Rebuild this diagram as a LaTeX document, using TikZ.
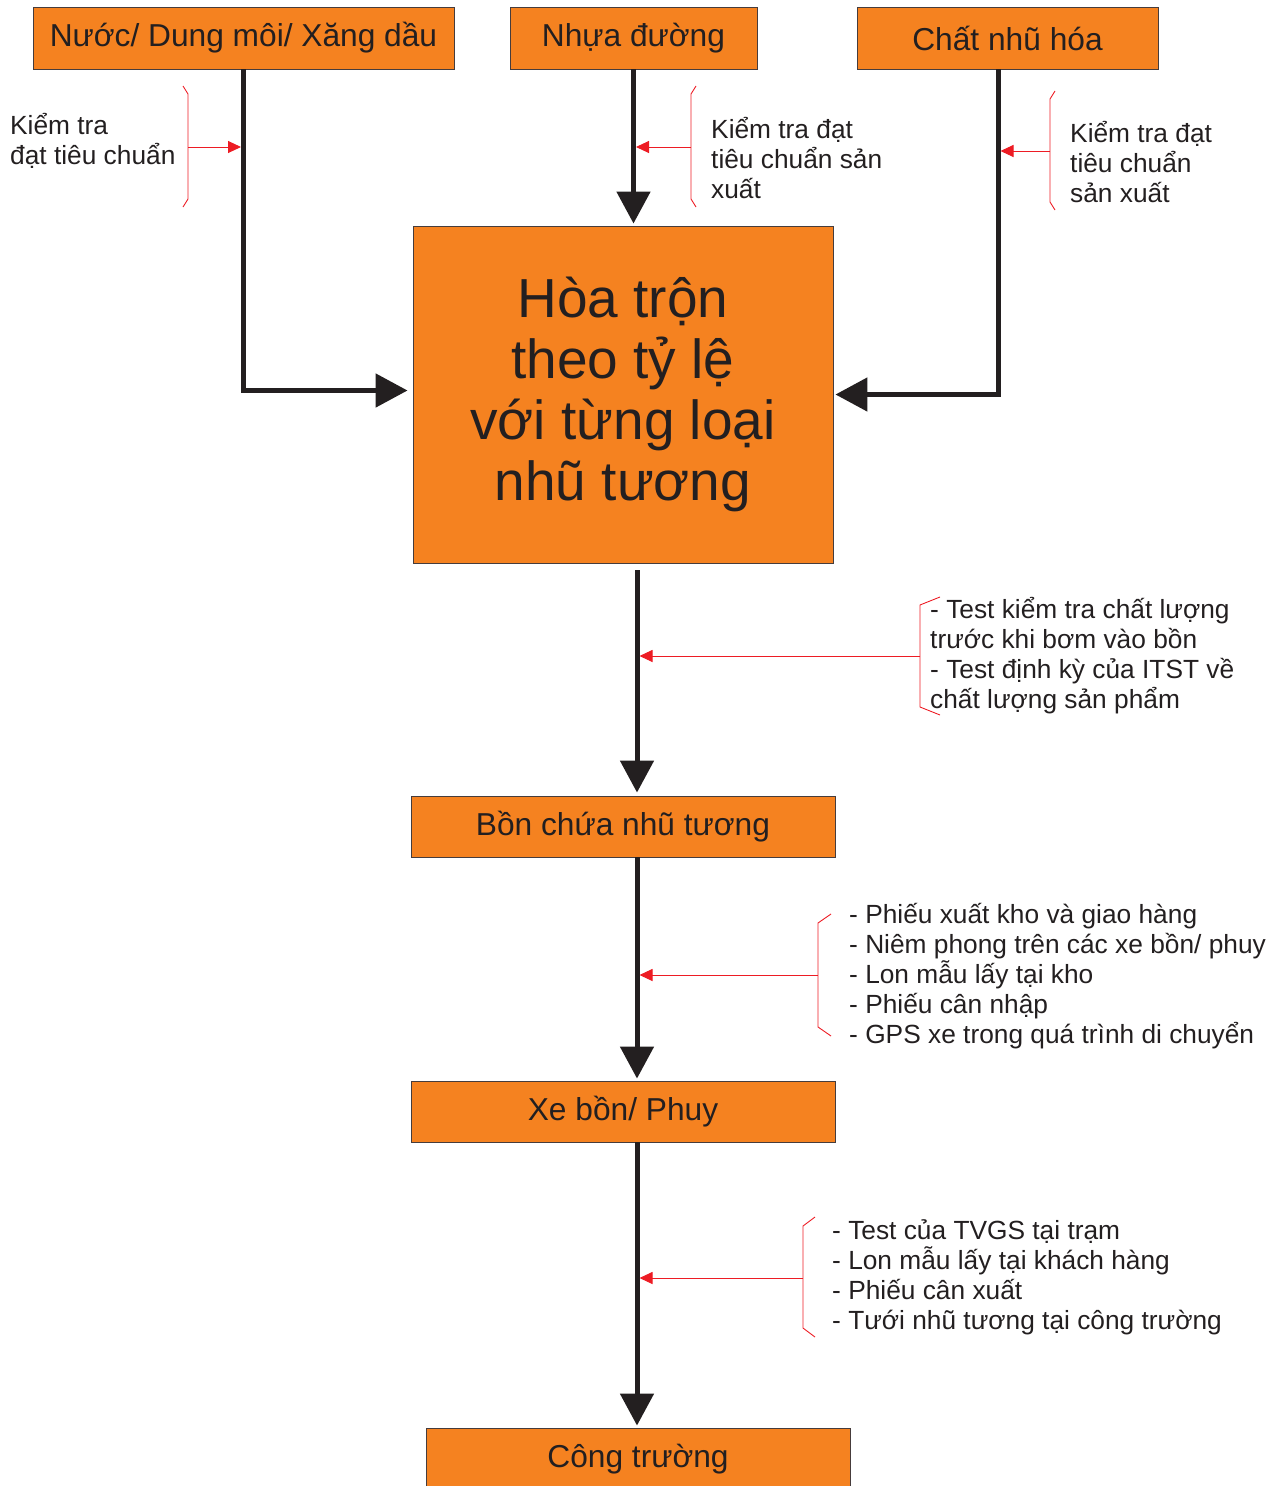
\documentclass[tikz,border=0pt]{standalone}
\usepackage{fontspec}
\setmainfont{Liberation Sans}
\usetikzlibrary{arrows.meta}

\definecolor{boxorange}{RGB}{245,130,32}
\definecolor{boxline}{RGB}{70,60,60}
\definecolor{flowblack}{RGB}{35,31,32}
\definecolor{checkred}{RGB}{237,28,36}

\tikzset{
	box/.style={draw=boxline, fill=boxorange, line width=0.9pt, inner sep=0pt, text=flowblack, font=\fontsize{31.7}{36}\selectfont},
	flow/.style={draw=flowblack, line width=5pt, -{Triangle[length=32pt,width=33pt]}},
	check/.style={draw=checkred, line width=1pt, -{Triangle[length=13pt,width=12pt]}},
	brace/.style={draw=checkred, line width=0.9pt},
	note/.style={anchor=west, align=left, inner sep=0pt, text=flowblack, font=\fontsize{26.3}{30}\selectfont}
}

\begin{document}
\begin{tikzpicture}[x=1pt,y=-1pt]
		\useasboundingbox (0,0) rectangle (1287,1486);
		
		% Boxes
		\node[box, minimum width=421pt, minimum height=62pt] (water) at (243.5,38) {Nước/ Dung môi/ Xăng dầu};
		\node[box, minimum width=247pt, minimum height=62pt] (bitumen) at (633.5,38) {Nhựa đường};
		\node[box, minimum width=301pt, minimum height=62pt] (emulsifier) at (1007.5,38) {Chất nhũ hóa};
		\node[box, minimum width=420pt, minimum height=337pt, align=center, font=\fontsize{55}{61}\selectfont] (mix) at (623,394.5) {Hòa trộn\\theo tỷ lệ\\với từng loại\\nhũ tương};
		\node[box, minimum width=424pt, minimum height=61pt] (tank) at (623,826.5) {Bồn chứa nhũ tương};
		\node[box, minimum width=424pt, minimum height=61pt] (truck) at (623,1111.5) {Xe bồn/ Phuy};
		\node[box, minimum width=424pt, minimum height=62pt] (site) at (638,1459) {Công trường};
		
		% Flow arrows
		\draw[flow] (water.south) |- ([yshift=4pt,xshift=-5pt]mix.west);
		\draw[flow, shorten >=2pt] (bitumen.south) -- (bitumen.south |- mix.north);
		\draw[flow] ([xshift=-9.5pt]emulsifier.south) |- ([xshift=2pt]mix.east);
		\draw[flow, shorten <=7pt, shorten >=3pt] ([xshift=14pt]mix.south) -- ([xshift=14pt]tank.north);
		\draw[flow, shorten >=2pt] ([xshift=14pt]tank.south) -- ([xshift=14pt]truck.north);
		\draw[flow, shorten >=2pt] ([xshift=14pt]truck.south) -- ([xshift=-1pt]site.north);
		
		% Check notes
		\node[note] (note1) at (10,141) {Kiểm tra\\đạt tiêu chuẩn};
		\node[note] (note2) at (711,158) {Kiểm tra đạt\\tiêu chuẩn sản\\xuất};
		\node[note] (note3) at (1070,162) {Kiểm tra đạt\\tiêu chuẩn\\sản xuất};
		\node[note] (note4) at (930,656) {- Test kiểm tra chất lượng\\trước khi bơm vào bồn\\- Test định kỳ của ITST về\\chất lượng sản phẩm};
		\node[note] (note5) at (849,976) {- Phiếu xuất kho và giao hàng\\- Niêm phong trên các xe bồn/ phuy\\- Lon mẫu lấy tại kho\\- Phiếu cân nhập\\- GPS xe trong quá trình di chuyển};
		\node[note] (note6) at (832,1277) {- Test của TVGS tại trạm\\- Lon mẫu lấy tại khách hàng\\- Phiếu cân xuất\\- Tưới nhũ tương tại công trường};
		
		% Brackets
		\draw[brace] (183,86) -- (188,94) -- (188,199) -- (183,207);
		\draw[brace] (696,86) -- (691,94) -- (691,199) -- (696,207);
		\draw[brace] (1055,91) -- (1050,99) -- (1050,202) -- (1055,210);
		\draw[brace] (940,597) -- (920,605) -- (920,707) -- (940,715);
		\draw[brace] (831,914) -- (818,923) -- (818,1027) -- (831,1036);
		\draw[brace] (815,1217) -- (803,1226) -- (803,1328) -- (815,1337);
		\coordinate (brace1) at (188,147);
		\coordinate (brace2) at (691,147);
		\coordinate (brace3) at (1050,151);
		\coordinate (brace4) at (920,656);
		\coordinate (brace5) at (818,975);
		\coordinate (brace6) at (803,1278);
		
		% Check arrows
		\draw[check, shorten >=2.5pt] (brace1) -- (brace1 -| water.south);
		\draw[check, shorten >=2.5pt] (brace2) -- (brace2 -| bitumen.south);
		\draw[check, shorten >=2.5pt] (brace3) -- ([xshift=-9.5pt]brace3 -| emulsifier.south);
		\draw[check, shorten >=2.5pt] (brace4) -- ([xshift=14pt]brace4 -| tank.north);
		\draw[check, shorten >=2.5pt] (brace5) -- ([xshift=14pt]brace5 -| tank.south);
		\draw[check, shorten >=2.5pt] (brace6) -- ([xshift=14pt]brace6 -| truck.south);
		
\end{tikzpicture}
\end{document}
